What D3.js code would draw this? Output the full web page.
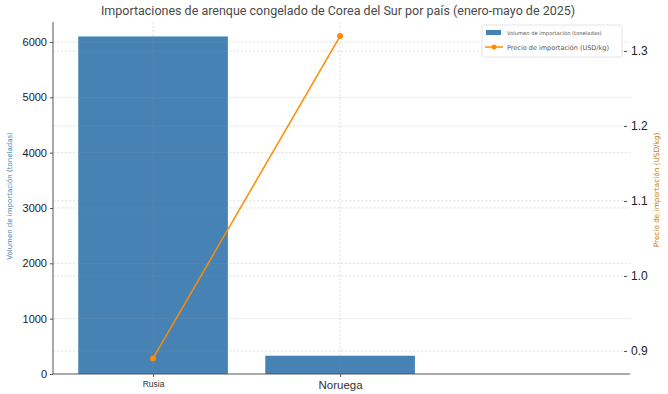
<!DOCTYPE html>
<html><head><meta charset="utf-8">
<script src="https://cdn.jsdelivr.net/npm/d3@7"></script>
<style>body{margin:0;background:#fff;}svg{display:block;font-family:"DejaVu Sans",sans-serif;}</style>
</head><body><svg id="c" width="668" height="394"></svg>
<script>
const categories = ["Rusia", "Noruega"];
const volumes = [6100, 330];
const prices = [0.89, 1.32];
const volTicks = [0, 1000, 2000, 3000, 4000, 5000, 6000];
const priceTicks = [0.9, 1.0, 1.1, 1.2, 1.3];
const title = "Importaciones de arenque congelado de Corea del Sur por país (enero-mayo de 2025)";
const volLabel = "Volumen de importación (toneladas)";
const priceLabel = "Precio de importación (USD/kg)";

const svg = d3.select("#c");
const L = 53, R = 630, T = 22, B = 374;
const x = d3.scaleLinear().domain([-0.535, 2.55]).range([L, R]);
const yV = d3.scaleLinear().domain([0, 6361]).range([B, T]);
const yP = d3.scaleLinear().domain([0.8693, 1.3387]).range([B, T]);
const bw = 0.8;
const gridColor = "rgba(150,150,150,0.4)";

// bars
svg.selectAll(".bar").data(categories).enter().append("rect")
  .attr("x", (d, i) => x(i - bw / 2)).attr("width", (d, i) => x(i + bw / 2) - x(i - bw / 2))
  .attr("y", (d, i) => yV(volumes[i])).attr("height", (d, i) => B - yV(volumes[i]))
  .attr("fill", "#4682b4");

// grid (over bars)
const g = svg.append("g");
g.selectAll(".gv").data(volTicks.slice(1)).enter().append("line")
  .attr("x1", L).attr("x2", R).attr("y1", d => yV(d)).attr("y2", d => yV(d))
  .attr("stroke", gridColor).attr("stroke-width", 0.7).attr("stroke-dasharray", "2.5,1.5");
g.selectAll(".gp").data(priceTicks).enter().append("line")
  .attr("x1", L).attr("x2", R).attr("y1", d => yP(d)).attr("y2", d => yP(d))
  .attr("stroke", gridColor).attr("stroke-width", 0.7).attr("stroke-dasharray", "2.5,1.5");
g.selectAll(".gx").data(categories).enter().append("line")
  .attr("x1", (d, i) => x(i)).attr("x2", (d, i) => x(i)).attr("y1", T).attr("y2", B)
  .attr("stroke", gridColor).attr("stroke-width", 0.7).attr("stroke-dasharray", "2.5,1.5");

// line
const line = d3.line().x((d, i) => x(i)).y(d => yP(d));
svg.append("path").datum(prices).attr("d", line).attr("fill", "none")
  .attr("stroke", "#ff8c00").attr("stroke-width", 1.5);
svg.selectAll(".pt").data(prices).enter().append("circle")
  .attr("cx", (d, i) => x(i)).attr("cy", d => yP(d)).attr("r", 3).attr("fill", "#ff8c00");

// axes
const axL = d3.axisLeft(yV).tickValues(volTicks).tickFormat(d3.format("d")).tickSize(3).tickPadding(3);
const gL = svg.append("g").attr("transform", `translate(${L},0)`).call(axL);
gL.select(".domain").attr("stroke", "#555").attr("d", `M0,${T}V${B}`);
gL.selectAll("text").attr("font-size", 11).attr("fill", "#222");
gL.selectAll(".tick line").attr("stroke", "#555");

const axR = d3.axisRight(yP).tickValues(priceTicks).tickFormat(d3.format(".1f")).tickSize(3).tickPadding(4);
const gR = svg.append("g").attr("transform", `translate(${R - 6},0)`).call(axR);
gR.select(".domain").remove();
gR.selectAll("text").attr("font-size", 12).attr("fill", "#222");
gR.selectAll(".tick line").attr("stroke", "#555");

const axB = d3.axisBottom(x).tickValues([0, 1]).tickFormat(i => categories[i]).tickSize(3).tickPadding(4);
const gB = svg.append("g").attr("transform", `translate(0,${B})`).call(axB);
gB.select(".domain").attr("stroke", "#555").attr("d", `M${L},0H${R}`);
gB.selectAll(".tick line").attr("stroke", "#555");
gB.selectAll("text").attr("fill", "#333").attr("font-size", (d, i) => i === 0 ? 8.5 : 11.5);

// title & labels
svg.append("text").attr("x", 338).attr("y", 15).attr("text-anchor", "middle")
  .attr("font-family", "Roboto").attr("font-size", 12.5).attr("fill", "#4a4a4a").text(title);
svg.append("text").attr("transform", `translate(12,196) rotate(-90)`)
  .attr("text-anchor", "middle").attr("font-size", 7).attr("fill", "#4682b4").text(volLabel);
svg.append("text").attr("transform", `translate(659,190) rotate(-90)`)
  .attr("text-anchor", "middle").attr("font-size", 7.3).attr("fill", "#cc7a00").text(priceLabel);

// legend
const lg = svg.append("g").attr("transform", "translate(482,25)");
lg.append("rect").attr("width", 140).attr("height", 32).attr("rx", 2).attr("fill", "#fff")
  .attr("fill-opacity", 0.85).attr("stroke", "#ddd").attr("stroke-width", 0.8);
lg.append("rect").attr("x", 4).attr("y", 5).attr("width", 15).attr("height", 5).attr("fill", "#4682b4");
lg.append("text").attr("x", 25).attr("y", 10).attr("font-size", 5.2).attr("fill", "#555").text(volLabel);
lg.append("line").attr("x1", 3).attr("x2", 21).attr("y1", 22).attr("y2", 22).attr("stroke", "#ff8c00").attr("stroke-width", 1.5);
lg.append("circle").attr("cx", 12).attr("cy", 22).attr("r", 2.5).attr("fill", "#ff8c00");
lg.append("text").attr("x", 25).attr("y", 24.5).attr("font-size", 6.5).attr("fill", "#555").text(priceLabel);
</script></body></html>
